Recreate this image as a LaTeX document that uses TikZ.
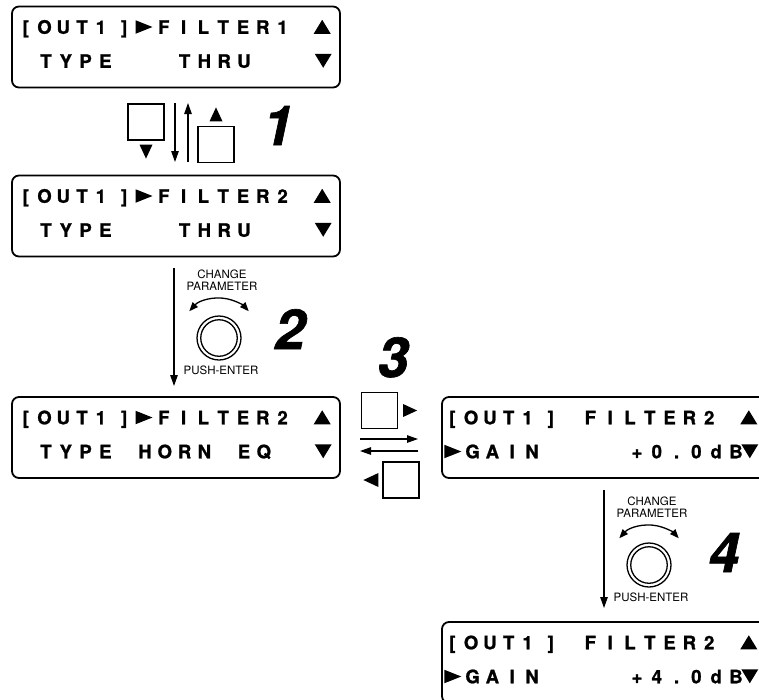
\documentclass[tikz,border=0pt]{standalone}
\usepackage{fontspec}
\usepackage{graphicx}
\setmainfont{TeX Gyre Heros}
\newfontfamily\heavy{TeX Gyre Heros}[BoldFeatures={FakeBold=1.2},BoldItalicFeatures={FakeBold=1.2}]
\usetikzlibrary{arrows.meta,calc}
\ExplSyntaxOn
\NewDocumentCommand\lcdrow{O{19.8pt}m}{\tl_map_inline:nn{#2}{\makebox[#1][c]{##1}}}
\ExplSyntaxOff
\newcommand\tup{\tikz[x=1pt,y=1pt]\fill(0,0)--(17,0)--(8.5,14)--cycle;}
\newcommand\tdn{\tikz[x=1pt,y=1pt]\fill(0,14)--(17,14)--(8.5,0)--cycle;}
\newcommand\trt{\tikz[x=1pt,y=1pt]\fill(0,0)--(0,13.5)--(17,6.75)--cycle;}
\tikzset{
  lcdbox/.style={draw, line width=1.8pt, rounded corners=7pt, minimum width=328pt, minimum height=81pt, inner sep=0pt},
  lcd/.style={anchor=west, inner sep=0pt, text height=13.3pt, text depth=0pt, font=\fontsize{18.5}{18.5}\heavy\bfseries},
  btn/.style={draw, line width=1.2pt, minimum size=36pt, inner sep=0pt},
  knobo/.style={draw, circle, line width=1.3pt, minimum size=44pt, inner sep=0pt},
  knobi/.style={draw, circle, line width=1.3pt, minimum size=36.5pt, inner sep=0pt},
  small/.style={inner sep=0pt, font=\fontsize{11.5}{11.5}\selectfont},
  digit/.style={anchor=base, inner sep=0pt, font=\fontsize{55}{55}\heavy\bfseries\itshape},
  flow/.style={line width=1.2pt, -{Triangle[length=11pt,width=7.5pt]}},
  turn/.style={line width=1.3pt, {Triangle[length=9pt,width=7pt]}-{Triangle[length=9pt,width=7pt]}}
}
\begin{document}
\begin{tikzpicture}[x=1pt,y=-1pt]
\useasboundingbox (0,0) rectangle (759,699);
\clip (0,0) rectangle (759,699);
% LCD boxes
\node[lcdbox] (box1) at (176,47) {};
\node[lcdbox] (box2) at (176,216) {};
\node[lcdbox] (box3) at (176,437.5) {};
\node[lcdbox] (box4) at (606,437.5) {};
\node[lcdbox] (box5) at (606,662.5) {};
% LCD text
\node[lcd] (b1r1) at ($(box1.north west)+(5,21.5)$) {\lcdrow[18.8pt]{[OUT1}\hspace{4pt}\lcdrow{]\trt FILTER1{}\tup}};
\node[lcd] (b1r2) at ($(box1.north west)+(5,55.5)$) {\lcdrow{{}TYPE{}{}{}THRU{}{}{}\tdn}};
\node[lcd] (b2r1) at ($(box2.north west)+(5,21.5)$) {\lcdrow[18.8pt]{[OUT1}\hspace{4pt}\lcdrow{]\trt FILTER2{}\tup}};
\node[lcd] (b2r2) at ($(box2.north west)+(5,55.5)$) {\lcdrow{{}TYPE{}{}{}THRU{}{}{}\tdn}};
\node[lcd] (b3r1) at ($(box3.north west)+(5,21.5)$) {\lcdrow[18.8pt]{[OUT1}\hspace{4pt}\lcdrow{]\trt FILTER2{}\tup}};
\node[lcd] (b3r2) at ($(box3.north west)+(5,55.5)$) {\lcdrow{{}TYPE{}HORN{}EQ{}{}\tdn}};
\node[lcd] (b4r1) at ($(box4.north west)+(1.6,21.5)$) {\lcdrow[18.8pt]{[OUT1}\hspace{4pt}\lcdrow{]{}FILTER2{}\tup}};
\node[lcd] (b4r2) at ($(box4.north west)+(1.6,55.5)$) {\lcdrow{\trt GAIN{}{}{}{}}\hspace{6pt}\lcdrow{+0.0dB}\hspace{-6pt}\lcdrow{\tdn}};
\node[lcd] (b5r1) at ($(box5.north west)+(1.6,21.5)$) {\lcdrow[18.8pt]{[OUT1}\hspace{4pt}\lcdrow{]{}FILTER2{}\tup}};
\node[lcd] (b5r2) at ($(box5.north west)+(1.6,55.5)$) {\lcdrow{\trt GAIN{}{}{}{}}\hspace{6pt}\lcdrow{+4.0dB}\hspace{-6pt}\lcdrow{\tdn}};
% step 1
\node[btn] (s1a) at (146,122) {};
\node[btn] (s1b) at (216,144.5) {};
\fill ($(s1a.south)+(-6.5,4)$) -- ++(13,0) -- ++(-6.5,14) -- cycle;
\fill ($(s1b.north)+(-6.5,-4.5)$) -- ++(13,0) -- ++(-6.5,-14) -- cycle;
\coordinate (d1a) at (175,103);
\coordinate (d1b) at (175,162);
\coordinate (u1a) at (188,162);
\coordinate (u1b) at (188,103);
\draw[flow] (d1a) -- (d1b);
\draw[flow] (u1a) -- (u1b);
\node[digit] (n1) at (278,145) {1};
% step 2
\coordinate (d2a) at (174,268);
\coordinate (d2b) at (174,386);
\draw[flow] (d2a) -- (d2b);
\node[small] (c2a) at (222,274) {CHANGE};
\node[small] (c2b) at (222,286) {PARAMETER};
\node[knobo] (k2) at (219,338) {};
\node[knobi] (k2i) at (k2) {};
\draw[turn] ([shift={(k2)}]222:40) arc (222:318:40);
\node[small] (p2) at (221,370) {PUSH-ENTER};
\node[digit] (n2) at (290,349) {2};
% step 3
\node[btn] (s3a) at (379.5,410.5) {};
\node[btn] (s3b) at (401,480) {};
\fill ($(s3a.east)+(5,-6.5)$) -- ++(0,13) -- ++(14,-6.5) -- cycle;
\fill ($(s3b.west)+(-4,-7)$) -- ++(0,14) -- ++(-15,-7) -- cycle;
\coordinate (r3a) at (360,439);
\coordinate (r3b) at (418,439);
\coordinate (l3a) at (418,451);
\coordinate (l3b) at (360,451);
\draw[flow] (r3a) -- (r3b);
\draw[flow] (l3a) -- (l3b);
\node[digit] (n3) at (393,377) {3};
% step 4
\coordinate (d4a) at (604,490);
\coordinate (d4b) at (604,608);
\draw[flow] (d4a) -- (d4b);
\node[small] (c4a) at (652,501) {CHANGE};
\node[small] (c4b) at (652,513) {PARAMETER};
\node[knobo] (k4) at (649,565) {};
\node[knobi] (k4i) at (k4) {};
\draw[turn] ([shift={(k4)}]222:40) arc (222:318:40);
\node[small] (p4) at (651,597) {PUSH-ENTER};
\node[digit] (n4) at (724,572) {4};
\end{tikzpicture}
\end{document}
